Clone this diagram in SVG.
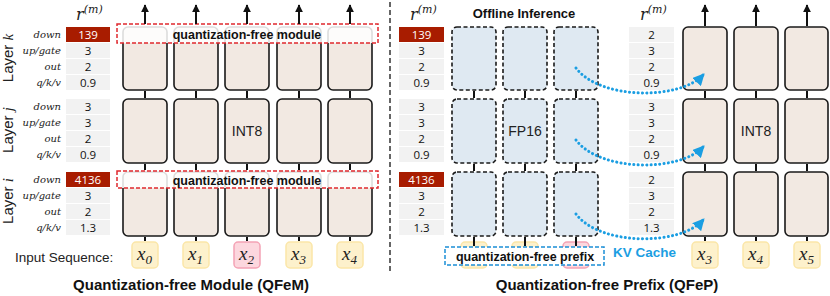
<svg xmlns="http://www.w3.org/2000/svg" width="830" height="296" viewBox="0 0 830 296">
<defs>
<style>
.blk{fill:#f2e9e2;stroke:#1a1a1a;stroke-width:1.6}
.bblk{fill:#dfe9f2;stroke:#1a1a1a;stroke-width:1.6;stroke-dasharray:4 2.5}
.cell{fill:#f2f2f2}
.red{fill:#a81c00}
.val{font-family:"Open Sans","Liberation Sans",sans-serif;font-size:11.5px;fill:#111;text-anchor:middle}
.wval{fill:#fff}
.rl{font-family:"DejaVu Serif","Liberation Serif",serif;font-style:italic;font-size:10px;fill:#222;text-anchor:end}
.ln{stroke:#111;stroke-width:2;fill:none}
.tok{fill:#fdf1cc;stroke:#fbe6a8;stroke-width:1.5}
.ptok{fill:#fcd7de;stroke:#f4a3b5;stroke-width:1.5}
.tx{font-family:"Liberation Serif","DejaVu Serif",serif;font-style:italic;font-size:19px;fill:#222}
.sub{font-size:13px}
.bold{font-family:"Liberation Sans",Arial,sans-serif;font-weight:bold;fill:#111}
.sans{font-family:"Liberation Sans",Arial,sans-serif;fill:#222}
.kv{fill:none;stroke:#1b9ee2;stroke-width:3;stroke-dasharray:0.1 4.2;stroke-linecap:round}
</style>
<marker id="ah" viewBox="0 0 10 10" refX="9" refY="5" markerWidth="4" markerHeight="4" orient="auto">
<path d="M0,0 L10,5 L0,10 z" fill="#111"/>
</marker>
<marker id="bh" viewBox="0 0 10 10" refX="8" refY="5" markerWidth="4" markerHeight="4" orient="auto">
<path d="M0,0 L10,5 L0,10 z" fill="#1b9ee2"/>
</marker>
</defs>
<rect width="830" height="296" fill="#fff"/>

<!-- layer labels -->
<g id="layer-labels" class="sans" font-size="15">
<text transform="translate(13,58) rotate(-90)" text-anchor="middle">Layer <tspan font-family="Liberation Serif,serif" font-style="italic">k</tspan></text>
<text transform="translate(13,130) rotate(-90)" text-anchor="middle">Layer <tspan font-family="Liberation Serif,serif" font-style="italic">j</tspan></text>
<text transform="translate(13,201) rotate(-90)" text-anchor="middle">Layer <tspan font-family="Liberation Serif,serif" font-style="italic">i</tspan></text>
</g>

<!-- row labels -->
<g id="row-labels" class="rl">
<text x="61" y="38">down</text><text x="61" y="54">up/gate</text><text x="61" y="70">out</text><text x="61" y="86">q/k/v</text>
<text x="61" y="110">down</text><text x="61" y="126">up/gate</text><text x="61" y="142">out</text><text x="61" y="158">q/k/v</text>
<text x="61" y="183">down</text><text x="61" y="199">up/gate</text><text x="61" y="215">out</text><text x="61" y="231">q/k/v</text>
</g>

<!-- r^(m) labels -->
<g id="rm-labels" font-family="DejaVu Serif,serif" font-style="italic" fill="#222">
<text x="76" y="20" font-size="16">r<tspan dy="-7" font-size="11">(m)</tspan></text>
<text x="410" y="20" font-size="16">r<tspan dy="-7" font-size="11">(m)</tspan></text>
<text x="640" y="20" font-size="16">r<tspan dy="-7" font-size="11">(m)</tspan></text>
</g>

<!-- value tables -->
<g id="table-left">
<rect class="red" x="66" y="27" width="44" height="15"/><rect class="cell" x="66" y="43" width="44" height="15"/><rect class="cell" x="66" y="59" width="44" height="15"/><rect class="cell" x="66" y="75" width="44" height="15"/>
<rect class="cell" x="66" y="99" width="44" height="15"/><rect class="cell" x="66" y="115" width="44" height="15"/><rect class="cell" x="66" y="131" width="44" height="15"/><rect class="cell" x="66" y="147" width="44" height="15"/>
<rect class="red" x="66" y="172" width="44" height="15"/><rect class="cell" x="66" y="188" width="44" height="15"/><rect class="cell" x="66" y="204" width="44" height="15"/><rect class="cell" x="66" y="220" width="44" height="15"/>
<g class="val">
<text x="88" y="39" class="wval">139</text><text x="88" y="55">3</text><text x="88" y="71">2</text><text x="88" y="87">0.9</text>
<text x="88" y="111">3</text><text x="88" y="127">3</text><text x="88" y="143">2</text><text x="88" y="159">0.9</text>
<text x="88" y="184" class="wval">4136</text><text x="88" y="200">3</text><text x="88" y="216">2</text><text x="88" y="232">1.3</text>
</g>
</g>
<g id="table-mid">
<rect class="red" x="399" y="27" width="45" height="15"/><rect class="cell" x="399" y="43" width="45" height="15"/><rect class="cell" x="399" y="59" width="45" height="15"/><rect class="cell" x="399" y="75" width="45" height="15"/>
<rect class="cell" x="399" y="99" width="45" height="15"/><rect class="cell" x="399" y="115" width="45" height="15"/><rect class="cell" x="399" y="131" width="45" height="15"/><rect class="cell" x="399" y="147" width="45" height="15"/>
<rect class="red" x="399" y="172" width="45" height="15"/><rect class="cell" x="399" y="188" width="45" height="15"/><rect class="cell" x="399" y="204" width="45" height="15"/><rect class="cell" x="399" y="220" width="45" height="15"/>
<g class="val">
<text x="421.5" y="39" class="wval">139</text><text x="421.5" y="55">3</text><text x="421.5" y="71">2</text><text x="421.5" y="87">0.9</text>
<text x="421.5" y="111">3</text><text x="421.5" y="127">3</text><text x="421.5" y="143">2</text><text x="421.5" y="159">0.9</text>
<text x="421.5" y="184" class="wval">4136</text><text x="421.5" y="200">3</text><text x="421.5" y="216">2</text><text x="421.5" y="232">1.3</text>
</g>
</g>
<g id="table-right">
<rect class="cell" x="629" y="27" width="45" height="15"/><rect class="cell" x="629" y="43" width="45" height="15"/><rect class="cell" x="629" y="59" width="45" height="15"/><rect class="cell" x="629" y="75" width="45" height="15"/>
<rect class="cell" x="629" y="99" width="45" height="15"/><rect class="cell" x="629" y="115" width="45" height="15"/><rect class="cell" x="629" y="131" width="45" height="15"/><rect class="cell" x="629" y="147" width="45" height="15"/>
<rect class="cell" x="629" y="172" width="45" height="15"/><rect class="cell" x="629" y="188" width="45" height="15"/><rect class="cell" x="629" y="204" width="45" height="15"/><rect class="cell" x="629" y="220" width="45" height="15"/>
<g class="val">
<text x="651.5" y="39">2</text><text x="651.5" y="55">3</text><text x="651.5" y="71">2</text><text x="651.5" y="87">0.9</text>
<text x="651.5" y="111">3</text><text x="651.5" y="127">3</text><text x="651.5" y="143">2</text><text x="651.5" y="159">0.9</text>
<text x="651.5" y="184">2</text><text x="651.5" y="200">3</text><text x="651.5" y="216">2</text><text x="651.5" y="232">1.3</text>
</g>
</g>

<!-- left blocks -->
<g id="qfem-layer-k">
<rect class="blk" x="123" y="27" width="44" height="63" rx="5"/><rect class="blk" x="174" y="27" width="44" height="63" rx="5"/><rect class="blk" x="225" y="27" width="44" height="63" rx="5"/><rect class="blk" x="277" y="27" width="44" height="63" rx="5"/><rect class="blk" x="328" y="27" width="44" height="63" rx="5"/>
</g>
<g id="qfem-layer-j">
<rect class="blk" x="123" y="99" width="44" height="64" rx="5"/><rect class="blk" x="174" y="99" width="44" height="64" rx="5"/><rect class="blk" x="225" y="99" width="44" height="64" rx="5"/><rect class="blk" x="277" y="99" width="44" height="64" rx="5"/><rect class="blk" x="328" y="99" width="44" height="64" rx="5"/>
<text x="247" y="136" class="sans" font-size="14" text-anchor="middle">INT8</text>
</g>
<g id="qfem-layer-i">
<rect class="blk" x="123" y="172" width="44" height="64" rx="5"/><rect class="blk" x="174" y="172" width="44" height="64" rx="5"/><rect class="blk" x="225" y="172" width="44" height="64" rx="5"/><rect class="blk" x="277" y="172" width="44" height="64" rx="5"/><rect class="blk" x="328" y="172" width="44" height="64" rx="5"/>
</g>
<g id="qfem-box-k">
<rect x="117" y="24" width="261" height="19" fill="#fff" fill-opacity="0.85" stroke="#e0282e" stroke-width="1.5" stroke-dasharray="4 2"/>
<text x="247" y="38.5" class="bold" font-size="12.5" text-anchor="middle">quantization-free module</text>
</g>
<g id="qfem-box-i">
<rect x="117" y="171" width="261" height="17" fill="#fff" fill-opacity="0.85" stroke="#e0282e" stroke-width="1.5" stroke-dasharray="4 2"/>
<text x="247" y="184.5" class="bold" font-size="12.5" text-anchor="middle">quantization-free module</text>
</g>

<!-- left tokens -->
<text x="15" y="262" class="sans" font-size="13.5">Input Sequence:</text>
<g id="tok-x0"><rect class="tok" x="132" y="242" width="26" height="26" rx="4"/><text x="137" y="260" class="tx">x<tspan class="sub" dy="4">0</tspan></text></g>
<g id="tok-x1"><rect class="tok" x="183" y="242" width="26" height="26" rx="4"/><text x="188" y="260" class="tx">x<tspan class="sub" dy="4">1</tspan></text></g>
<g id="tok-x2"><rect class="ptok" x="234" y="242" width="26" height="26" rx="4"/><text x="239" y="260" class="tx">x<tspan class="sub" dy="4">2</tspan></text></g>
<g id="tok-x3"><rect class="tok" x="286" y="242" width="26" height="26" rx="4"/><text x="291" y="260" class="tx">x<tspan class="sub" dy="4">3</tspan></text></g>
<g id="tok-x4"><rect class="tok" x="337" y="242" width="26" height="26" rx="4"/><text x="342" y="260" class="tx">x<tspan class="sub" dy="4">4</tspan></text></g>

<text x="191" y="290" class="bold" font-size="15" text-anchor="middle">Quantization-free Module (QFeM)</text>

<!-- divider -->
<path d="M390,2V272" stroke="#333" stroke-width="1.5" stroke-dasharray="5 3"/>

<!-- right side offline blocks -->
<text x="524" y="18" class="bold" font-size="13" text-anchor="middle">Offline Inference</text>
<g id="qfep-offline-k">
<rect class="bblk" x="452" y="27" width="44" height="63" rx="5"/><rect class="bblk" x="503" y="27" width="44" height="63" rx="5"/><rect class="bblk" x="554" y="27" width="44" height="63" rx="5"/>
</g>
<g id="qfep-offline-j">
<rect class="bblk" x="452" y="99" width="44" height="64" rx="5"/><rect class="bblk" x="503" y="99" width="44" height="64" rx="5"/><rect class="bblk" x="554" y="99" width="44" height="64" rx="5"/>
<text x="525" y="136" class="sans" font-size="14" text-anchor="middle">FP16</text>
</g>
<g id="qfep-offline-i">
<rect class="bblk" x="452" y="172" width="44" height="64" rx="5"/><rect class="bblk" x="503" y="172" width="44" height="64" rx="5"/><rect class="bblk" x="554" y="172" width="44" height="64" rx="5"/>
</g>
<g id="prefix-tokens">
<rect class="tok" x="461" y="242" width="26" height="26" rx="4"/>
<rect class="tok" x="512" y="242" width="26" height="26" rx="4"/>
<rect class="ptok" x="563" y="242" width="26" height="26" rx="4"/>
</g>
<g id="qfep-prefix-box">
<rect x="445" y="247" width="159" height="18" fill="#fff" stroke="#1b8fd6" stroke-width="1.5" stroke-dasharray="4 2"/>
<text x="525" y="261" class="bold" font-size="12.5" text-anchor="middle">quantization-free prefix</text>
</g>

<!-- right INT8 blocks -->
<g id="qfep-layer-k">
<rect class="blk" x="683" y="27" width="44" height="63" rx="5"/><rect class="blk" x="734" y="27" width="44" height="63" rx="5"/><rect class="blk" x="785" y="27" width="43" height="63" rx="5"/>
</g>
<g id="qfep-layer-j">
<rect class="blk" x="683" y="99" width="44" height="64" rx="5"/><rect class="blk" x="734" y="99" width="44" height="64" rx="5"/><rect class="blk" x="785" y="99" width="43" height="64" rx="5"/>
<text x="756" y="136" class="sans" font-size="14" text-anchor="middle">INT8</text>
</g>
<g id="qfep-layer-i">
<rect class="blk" x="683" y="172" width="44" height="64" rx="5"/><rect class="blk" x="734" y="172" width="44" height="64" rx="5"/><rect class="blk" x="785" y="172" width="43" height="64" rx="5"/>
</g>
<g id="tok-r3"><rect class="tok" x="692" y="242" width="26" height="26" rx="4"/><text x="697" y="260" class="tx">x<tspan class="sub" dy="4">3</tspan></text></g>
<g id="tok-r4"><rect class="tok" x="743" y="242" width="26" height="26" rx="4"/><text x="748" y="260" class="tx">x<tspan class="sub" dy="4">4</tspan></text></g>
<g id="tok-r5"><rect class="tok" x="794" y="242" width="26" height="26" rx="4"/><text x="799" y="260" class="tx">x<tspan class="sub" dy="4">5</tspan></text></g>

<text x="613" y="257" class="bold" font-size="13.5" style="fill:#1b9ee2">KV Cache</text>

<text x="607" y="290" class="bold" font-size="15" text-anchor="middle">Quantization-free Prefix (QFeP)</text>

<!-- connectors -->
<g id="connectors">
<g class="ln">
<path d="M145,24V5" marker-end="url(#ah)"/><path d="M196,24V5" marker-end="url(#ah)"/><path d="M247,24V5" marker-end="url(#ah)"/><path d="M299,24V5" marker-end="url(#ah)"/><path d="M350,24V5" marker-end="url(#ah)"/>
<path d="M705,26V5" marker-end="url(#ah)"/><path d="M756,26V5" marker-end="url(#ah)"/><path d="M807,26V5" marker-end="url(#ah)"/>
<path d="M145,91V98M196,91V98M247,91V98M299,91V98M350,91V98M145,164V170M196,164V170M247,164V170M299,164V170M350,164V170"/>
<path d="M145,237V241M196,237V241M247,237V241M299,237V241M350,237V241"/>
<path d="M474,91V98M525,91V98M576,91V98M474,164V171M525,164V171M576,164V171M474,237V246M525,237V246M576,237V246"/>
<path d="M705,91V98M756,91V98M807,91V98M705,164V171M756,164V171M807,164V171M705,237V241M756,237V241M807,237V241"/>
</g>
<path class="kv" d="M576,68 C600,100 680,100 703,75" marker-end="url(#bh)"/>
<path class="kv" d="M576,140 C600,172 680,172 703,147" marker-end="url(#bh)"/>
<path class="kv" d="M576,214 C600,246 680,246 703,220" marker-end="url(#bh)"/>
</g>
</svg>
